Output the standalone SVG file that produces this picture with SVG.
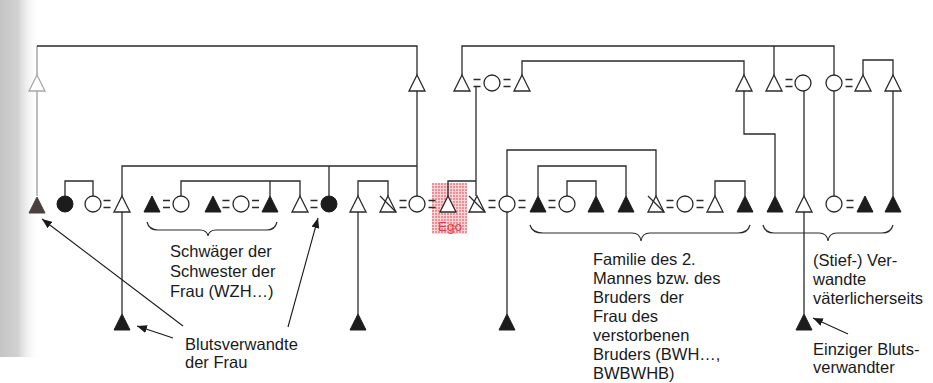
<svg xmlns="http://www.w3.org/2000/svg" xmlns:xlink="http://www.w3.org/1999/xlink" width="933" height="383" viewBox="0 0 933 383">
<style>
.ln{fill:none;stroke:#2a2a2a;stroke-width:1.3}
.fd{fill:none;stroke:#9a9a9a;stroke-width:1.3}
.o{fill:#fff;stroke:#2a2a2a;stroke-width:1.3}
.f{fill:#1c1c1c;stroke:#1c1c1c;stroke-width:1}
.fo{fill:#fff;stroke:#a8a8a8;stroke-width:1.3}
.ff{fill:#4a4040;stroke:#4a4040;stroke-width:1}
.eq{fill:none;stroke:#2a2a2a;stroke-width:1.6}
.br{fill:none;stroke:#2a2a2a;stroke-width:1.2}
.ar{fill:none;stroke:#1a1a1a;stroke-width:1.1}
.t{font-family:"Liberation Sans",Arial,sans-serif;font-size:16.5px;fill:#1a1a1a}
.ego{font-family:"Liberation Sans",Arial,sans-serif;font-size:13.5px;fill:#d8404f;text-anchor:middle}
</style>
<defs>
<linearGradient id="shade" x1="0" y1="0" x2="1" y2="0">
<stop offset="0" stop-color="#c4c4c4"/>
<stop offset="0.45" stop-color="#d2d2d2"/>
<stop offset="1" stop-color="#ffffff" stop-opacity="0"/>
</linearGradient>
<pattern id="pink" width="3" height="3" patternUnits="userSpaceOnUse">
<rect width="3" height="3" fill="#fbd6d9"/>
<rect width="2" height="2" fill="#f08e98"/>
</pattern>
<path id="tri" d="M0,-8 L8,8 L-8,8 Z"/>
<g id="triX"><path d="M0,-8 L8,8 L-8,8 Z"/><path d="M-8,-8 L8,8" fill="none"/></g>
<path id="eqs" d="M-3.5,-3.5 h7 M-3.5,3.5 h7"/>
<marker id="ah" markerWidth="10" markerHeight="8" refX="10" refY="4" orient="auto" markerUnits="userSpaceOnUse">
<path d="M0,0 L10,4 L0,8 Z" fill="#1a1a1a"/>
</marker>
</defs>
<rect width="933" height="383" fill="#fff"/>
<rect x="0" y="0" width="40" height="357" fill="url(#shade)"/>
<rect x="432" y="183" width="35" height="51" fill="url(#pink)"/>

<g id="connectors">
<path class="fd" d="M37,46 V75 M37,91 V196"/>
<path class="ln" d="M37,46 H417 V75 M417,91 V196"/>
<path class="ln" d="M122,196 V166 H417 M329,166 V196"/>
<path class="ln" d="M122,212 V314"/>
<path class="ln" d="M65,196 V181 H93 V196"/>
<path class="ln" d="M181,196 V181 H300 V196 M270,181 V196"/>
<path class="ln" d="M358,196 V181 H388 V196"/>
<path class="ln" d="M358,212 V314"/>
<path class="ln" d="M448,196 V181 H476 M476,87 V196"/>
<path class="ln" d="M462,75 V46 H834 V75 M774,46 V75"/>
<path class="ln" d="M522,75 V61 H744 V75"/>
<path class="ln" d="M744,91 V134 H775 V196"/>
<path class="ln" d="M804,91 V196 M804,212 V314"/>
<path class="ln" d="M834,91 V196"/>
<path class="ln" d="M863,75 V60 H893 V75 M893,91 V196"/>
<path class="ln" d="M507,196 V150 H656 V196 M507,212 V314"/>
<path class="ln" d="M538,196 V166 H626 V196"/>
<path class="ln" d="M567,196 V181 H596 V196"/>
<path class="ln" d="M715,196 V181 H745 V196"/>
<path class="br" d="M147,222 Q149,230 158,230 H200 Q207,230 208,236 Q209,230 216,230 H267 Q275,230 277,222"/>
<path class="br" d="M530,225 Q532,233 543,233 H632 Q640,233 641,241 Q642,233 650,233 H738 Q748,233 750,225"/>
<path class="br" d="M763,225 Q765,233 774,233 H819 Q827,233 828,241 Q829,233 837,233 H882 Q891,233 893,225"/>
<path class="ar" d="M183,326 L42,219" marker-end="url(#ah)"/>
<path class="ar" d="M173,338 L137,326" marker-end="url(#ah)"/>
<path class="ar" d="M288,327 L318,218" marker-end="url(#ah)"/>
<path class="ar" d="M848,334 L813,318" marker-end="url(#ah)"/>
</g>

<g id="n-top37"><use href="#tri" class="fo" x="37" y="83"/></g>
<g id="n-top417"><use href="#tri" class="o" x="417" y="83"/></g>
<g id="n-top462"><use href="#tri" class="o" x="462" y="83"/><use href="#eqs" class="eq" x="477" y="83"/></g>
<g id="n-top492"><circle class="o" cx="492" cy="83" r="8"/><use href="#eqs" class="eq" x="507" y="83"/></g>
<g id="n-top522"><use href="#tri" class="o" x="522" y="83"/></g>
<g id="n-top744"><use href="#tri" class="o" x="744" y="83"/></g>
<g id="n-top774"><use href="#tri" class="o" x="774" y="83"/><use href="#eqs" class="eq" x="789" y="83"/></g>
<g id="n-top803"><circle class="o" cx="803" cy="83" r="8"/></g>
<g id="n-top834"><circle class="o" cx="834" cy="83" r="8"/><use href="#eqs" class="eq" x="849" y="83"/></g>
<g id="n-top863"><use href="#tri" class="o" x="863" y="83"/></g>
<g id="n-top893"><use href="#tri" class="o" x="893" y="83"/></g>

<g id="n-m37"><use href="#tri" class="ff" x="37" y="205"/></g>
<g id="n-m65"><circle class="f" cx="65" cy="204" r="8"/></g>
<g id="n-m93"><circle class="o" cx="93" cy="204" r="8"/><use href="#eqs" class="eq" x="107" y="204"/></g>
<g id="n-m122"><use href="#tri" class="o" x="122" y="204"/></g>
<g id="n-m152"><use href="#tri" class="f" x="152" y="204"/><use href="#eqs" class="eq" x="166.5" y="204"/></g>
<g id="n-m181"><circle class="o" cx="181" cy="204" r="8"/></g>
<g id="n-m213"><use href="#tri" class="f" x="213" y="204"/><use href="#eqs" class="eq" x="226" y="204"/></g>
<g id="n-m241"><circle class="o" cx="241" cy="204" r="8"/><use href="#eqs" class="eq" x="255.5" y="204"/></g>
<g id="n-m270"><use href="#tri" class="f" x="270" y="204"/></g>
<g id="n-m300"><use href="#tri" class="o" x="300" y="204"/><use href="#eqs" class="eq" x="314" y="204"/></g>
<g id="n-m329"><circle class="f" cx="329" cy="204" r="8"/></g>
<g id="n-m358"><use href="#tri" class="o" x="358" y="204"/></g>
<g id="n-m388"><use href="#triX" class="o" x="388" y="204"/><use href="#eqs" class="eq" x="403" y="204"/></g>
<g id="n-m417"><circle class="o" cx="417" cy="204" r="8"/><use href="#eqs" class="eq" x="432" y="204"/></g>
<g id="n-ego"><use href="#tri" class="o" x="448" y="204"/><text class="ego" x="450" y="231">Ego</text></g>
<g id="n-m477"><use href="#triX" class="o" x="477" y="204"/><use href="#eqs" class="eq" x="492" y="204"/></g>
<g id="n-m507"><circle class="o" cx="507" cy="204" r="8"/><use href="#eqs" class="eq" x="522" y="204"/></g>
<g id="n-m538"><use href="#tri" class="f" x="538" y="204"/><use href="#eqs" class="eq" x="552" y="204"/></g>
<g id="n-m567"><circle class="o" cx="567" cy="204" r="8"/></g>
<g id="n-m596"><use href="#tri" class="f" x="596" y="204"/></g>
<g id="n-m626"><use href="#tri" class="f" x="626" y="204"/></g>
<g id="n-m656"><use href="#triX" class="o" x="656" y="204"/><use href="#eqs" class="eq" x="670" y="204"/></g>
<g id="n-m685"><circle class="o" cx="685" cy="204" r="8"/><use href="#eqs" class="eq" x="700" y="204"/></g>
<g id="n-m715"><use href="#tri" class="o" x="715" y="204"/></g>
<g id="n-m745"><use href="#tri" class="f" x="745" y="204"/></g>
<g id="n-m775"><use href="#tri" class="f" x="775" y="204"/></g>
<g id="n-m805"><use href="#tri" class="o" x="804" y="204"/></g>
<g id="n-m834"><circle class="o" cx="834" cy="204" r="8"/><use href="#eqs" class="eq" x="850" y="204"/></g>
<g id="n-m865"><use href="#tri" class="f" x="865" y="204"/></g>
<g id="n-m893"><use href="#tri" class="f" x="893" y="204"/></g>

<g id="n-b122"><use href="#tri" class="f" x="122" y="322"/></g>
<g id="n-b358"><use href="#tri" class="f" x="358" y="322"/></g>
<g id="n-b507"><use href="#tri" class="f" x="507" y="322"/></g>
<g id="n-b804"><use href="#tri" class="f" x="804" y="322"/></g>

<g id="labels">
<text class="t"><tspan x="170" y="257">Schwäger der</tspan><tspan x="170" y="277">Schwester der</tspan><tspan x="170" y="297">Frau (WZH…)</tspan></text>
<text class="t"><tspan x="185" y="350">Blutsverwandte</tspan><tspan x="185" y="368">der Frau</tspan></text>
<text class="t"><tspan x="593" y="265">Familie des 2.</tspan><tspan x="593" y="284">Mannes bzw. des</tspan><tspan x="593" y="303" style="white-space:pre">Bruders  der</tspan><tspan x="593" y="322">Frau des</tspan><tspan x="593" y="341">verstorbenen</tspan><tspan x="593" y="360">Bruders (BWH…,</tspan><tspan x="593" y="379">BWBWHB)</tspan></text>
<text class="t"><tspan x="813" y="266">(Stief-) Ver-</tspan><tspan x="813" y="285">wandte</tspan><tspan x="813" y="304">väterlicherseits</tspan></text>
<text class="t"><tspan x="813" y="355">Einziger Bluts-</tspan><tspan x="813" y="373">verwandter</tspan></text>
</g>
</svg>
